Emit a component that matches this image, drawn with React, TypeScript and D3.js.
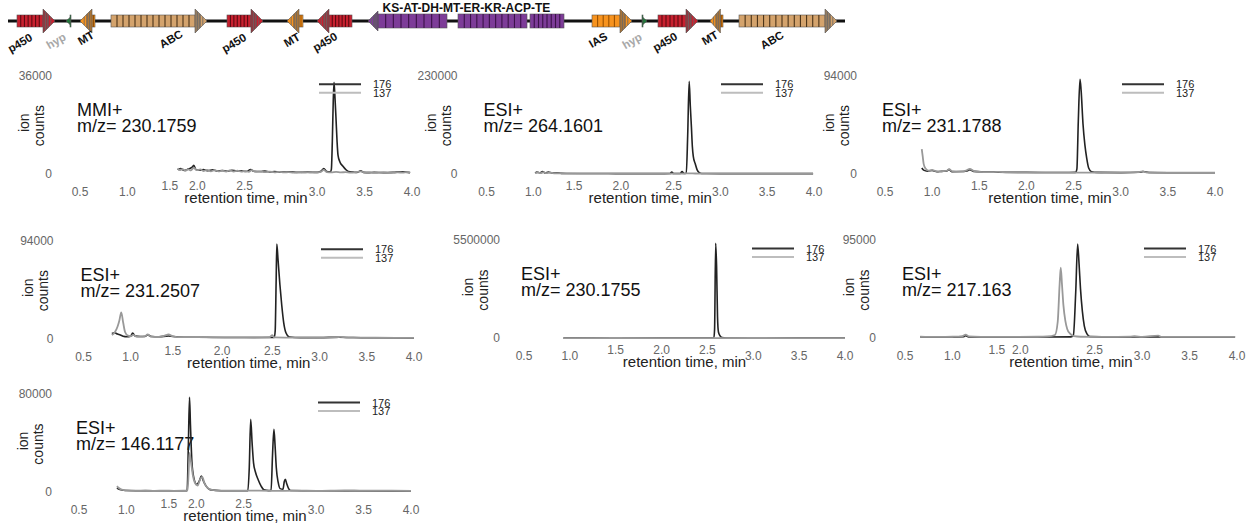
import React from 'react';
import * as d3 from 'd3';

type Pt = [number, number];

// ---------------- chromatogram data ----------------
const seriesNames = ['176', '137'];
const xTicks = [0.5, 1.0, 1.5, 2.0, 2.5, 3.0, 3.5, 4.0];
const raisedTicks = [1.5, 2.0, 2.5];

const ionModes = ['MMI+', 'ESI+', 'ESI+', 'ESI+', 'ESI+', 'ESI+', 'ESI+'];
const mzValues = ['230.1759', '264.1601', '231.1788', '231.2507', '230.1755', '217.163', '146.1177'];
const yMaxValues = [36000, 230000, 94000, 94000, 5500000, 95000, 80000];

const p1_176: Pt[] = [[1.53,1600],[1.56,2100],[1.6,1400],[1.64,1900],[1.68,2500],[1.7,3300],[1.72,1800],[1.76,1500],[1.8,1700],[1.85,1300],[1.9,1600],[1.95,1200],[2.0,1400],[2.05,1100],[2.1,1500],[2.15,1200],[2.2,1300],[2.25,1000],[2.3,1700],[2.33,1100],[2.4,1000],[2.45,1200],[2.5,900],[2.55,1000],[2.6,800],[2.7,900],[2.8,700],[2.9,800],[3.0,700],[3.04,1100],[3.07,2100],[3.1,1000],[3.14,900],[3.15,1800],[3.16,12000],[3.17,27000],[3.178,33600],[3.188,28000],[3.198,21000],[3.21,12000],[3.22,7000],[3.24,4500],[3.27,3000],[3.3,1800],[3.33,1000],[3.38,800],[3.42,700],[3.46,1300],[3.49,700],[3.55,600],[3.6,700],[3.7,600],[3.8,700],[3.9,900],[3.98,600]];
const p1_137: Pt[] = [[1.53,2200],[1.55,1500],[1.58,1900],[1.61,1300],[1.64,1800],[1.67,1400],[1.7,2400],[1.73,1500],[1.77,1800],[1.8,1200],[1.84,1600],[1.88,1100],[1.92,1500],[1.96,1100],[2.0,1300],[2.04,1000],[2.08,1400],[2.12,1000],[2.16,1300],[2.2,1000],[2.24,1200],[2.28,900],[2.31,1500],[2.35,900],[2.4,1000],[2.45,800],[2.5,1000],[2.55,700],[2.6,900],[2.65,700],[2.7,800],[2.75,600],[2.8,800],[2.85,600],[2.9,700],[2.95,600],[3.0,700],[3.04,900],[3.07,1600],[3.1,800],[3.15,700],[3.2,900],[3.25,700],[3.3,800],[3.35,600],[3.4,700],[3.46,1100],[3.5,600],[3.55,700],[3.6,500],[3.65,600],[3.7,700],[3.75,500],[3.8,600],[3.85,700],[3.9,600],[3.95,800],[3.98,500]];

const p2_176: Pt[] = [[1.02,3000],[1.04,5500],[1.07,3500],[1.1,6500],[1.13,3000],[1.16,5000],[1.2,3000],[1.25,3500],[1.3,2200],[1.4,1800],[1.6,1800],[1.8,1700],[2.0,1600],[2.2,1600],[2.4,1600],[2.46,1800],[2.48,5000],[2.5,1800],[2.57,1800],[2.59,6500],[2.61,2000],[2.635,2500],[2.65,90000],[2.666,216700],[2.678,160000],[2.69,110000],[2.7,65000],[2.71,42000],[2.73,25000],[2.75,11000],[2.77,4500],[2.8,1800],[3.0,1600],[3.5,1600],[3.99,1600]];
const p2_137: Pt[] = [[1.02,2500],[1.05,4200],[1.08,2800],[1.11,4800],[1.14,2600],[1.18,4000],[1.22,2400],[1.3,2000],[1.5,1800],[1.7,1800],[2.0,1700],[2.3,1700],[2.6,1700],[2.64,2200],[2.7,2000],[2.8,1700],[3.2,1700],[3.6,1700],[3.99,1700]];

const p3_176: Pt[] = [[0.89,6000],[0.91,4000],[0.95,3000],[1.0,3600],[1.05,2500],[1.1,2800],[1.15,3000],[1.18,4500],[1.21,2500],[1.3,2600],[1.37,3200],[1.4,4500],[1.44,2800],[1.55,2200],[1.7,2000],[2.0,1800],[2.3,1700],[2.52,1800],[2.535,5000],[2.55,50000],[2.568,90600],[2.58,80000],[2.6,48000],[2.62,28000],[2.64,15000],[2.66,6000],[2.69,2500],[2.75,1800],[3.0,1600],[3.2,2000],[3.24,2600],[3.3,1700],[3.6,1500],[4.0,1500]];
const p3_137: Pt[] = [[0.89,24000],[0.9,17000],[0.91,10000],[0.93,5500],[0.96,3500],[1.0,4200],[1.04,3000],[1.1,2800],[1.15,3200],[1.18,4800],[1.21,3000],[1.3,2500],[1.36,3500],[1.4,5200],[1.44,3300],[1.5,2300],[1.6,2000],[1.7,2300],[1.8,1800],[2.0,1800],[2.2,1600],[2.4,1600],[2.6,1600],[2.8,1500],[3.0,1600],[3.18,2000],[3.23,2700],[3.28,1700],[3.5,1500],[3.8,1500],[4.0,1500]];

const p4_176: Pt[] = [[0.8,5500],[0.83,6200],[0.86,5000],[0.89,4200],[0.92,3000],[0.96,2500],[1.0,3000],[1.02,6000],[1.05,3000],[1.1,2600],[1.15,2600],[1.18,4200],[1.22,2600],[1.3,2400],[1.4,3200],[1.5,2200],[1.7,1900],[2.0,1700],[2.3,1700],[2.52,1800],[2.53,8000],[2.54,55000],[2.547,90800],[2.56,76000],[2.58,52000],[2.6,32000],[2.62,16000],[2.645,6000],[2.68,2200],[2.8,1600],[3.0,1600],[3.2,2000],[3.5,1500],[4.0,1400]];
const p4_137: Pt[] = [[0.8,4000],[0.83,6500],[0.86,12000],[0.88,18000],[0.9,25700],[0.92,16000],[0.94,7000],[0.97,3500],[1.0,3000],[1.03,4200],[1.06,2600],[1.1,2500],[1.15,3000],[1.18,4600],[1.21,2800],[1.3,2300],[1.36,3400],[1.4,4600],[1.44,3000],[1.5,2100],[1.7,2200],[1.9,1800],[2.1,1800],[2.3,1700],[2.47,2000],[2.5,4000],[2.52,1800],[2.8,1600],[3.0,1500],[3.18,1900],[3.22,2400],[3.28,1600],[3.6,1500],[4.0,1400]];

const p5_176: Pt[] = [[0.93,20000],[1.3,22000],[1.7,20000],[2.0,21000],[2.3,20000],[2.57,22000],[2.578,500000],[2.59,5315000],[2.6,4000000],[2.61,1200000],[2.62,350000],[2.64,120000],[2.66,40000],[2.7,20000],[3.0,21000],[3.5,20000],[4.0,20000]];
const p5_137: Pt[] = [[0.93,15000],[1.5,16000],[2.0,15000],[2.5,15000],[3.0,16000],[3.5,15000],[4.0,15000]];

const p6_176: Pt[] = [[0.66,1200],[0.8,1300],[1.0,1300],[1.12,1600],[1.14,2500],[1.17,1400],[1.5,1300],[2.0,1300],[2.25,1400],[2.275,3000],[2.3,45000],[2.32,91100],[2.335,72000],[2.35,48000],[2.37,26000],[2.39,12000],[2.42,4000],[2.45,1600],[2.7,1300],[3.0,1400],[3.5,1300],[3.98,1200]];
const p6_137: Pt[] = [[0.66,1500],[0.75,1300],[0.9,1400],[1.0,1500],[1.1,1800],[1.14,3600],[1.17,1900],[1.3,1400],[1.5,1300],[1.7,1400],[1.9,1500],[2.0,1800],[2.08,3200],[2.11,16000],[2.13,52000],[2.142,68200],[2.155,52000],[2.17,32000],[2.19,17000],[2.21,9000],[2.24,4500],[2.28,2000],[2.35,1500],[2.6,1400],[2.88,1700],[2.92,2000],[3.0,1400],[3.17,2600],[3.2,1400],[3.5,1300],[3.98,1300]];

const p7_176: Pt[] = [[0.9,3500],[0.93,2200],[0.97,1700],[1.0,1500],[1.2,1300],[1.5,1300],[1.64,1400],[1.652,35000],[1.665,77300],[1.675,55000],[1.69,25000],[1.71,12000],[1.74,6500],[1.77,9500],[1.79,13300],[1.81,9500],[1.84,5000],[1.88,2200],[2.0,1300],[2.28,1300],[2.295,20000],[2.31,59400],[2.325,40000],[2.34,24000],[2.36,16500],[2.39,10000],[2.42,5000],[2.45,2000],[2.5,1400],[2.525,1500],[2.54,30000],[2.555,51300],[2.567,38000],[2.58,20000],[2.6,8000],[2.62,3000],[2.65,2500],[2.665,9000],[2.675,10600],[2.69,7000],[2.71,3000],[2.73,1500],[3.0,1300],[4.0,1200]];
const p7_137: Pt[] = [[0.9,5100],[0.92,3500],[0.95,2200],[1.0,1500],[1.1,1300],[1.2,1500],[1.3,1200],[1.4,1400],[1.5,1200],[1.6,1300],[1.645,1500],[1.655,15000],[1.665,32000],[1.68,25000],[1.7,14000],[1.72,8000],[1.75,5500],[1.78,11000],[1.8,12500],[1.82,8000],[1.85,4000],[1.9,2000],[2.0,1400],[2.2,1300],[2.4,1300],[2.6,1200],[2.8,1300],[3.0,1200],[3.3,1600],[3.5,1300],[3.8,1300],[4.0,1200]];

const traces176 = [p1_176, p2_176, p3_176, p4_176, p5_176, p6_176, p7_176];
const traces137 = [p1_137, p2_137, p3_137, p4_137, p5_137, p6_137, p7_137];

// ---------------- gene cluster data ----------------
const geneNames = ['p450', 'hyp', 'MT', 'ABC', 'p450', 'MT', 'p450', 'PKS', 'IAS', 'hyp', 'p450', 'MT', 'ABC'];
const geneStart = [17, 66, 80, 111, 227, 287, 317, 368, 592, 642, 658, 710, 739];
const geneEnd = [55, 71, 95, 207, 263, 303, 352, 564, 632, 647, 698, 723, 837];
const geneStrand = [1, -1, -1, 1, 1, -1, -1, -1, 1, 1, 1, -1, 1];
const pksDomains: Pt[] = [[378, 447], [458, 527], [530, 564]];
const pksLabel = 'KS-AT-DH-MT-ER-KR-ACP-TE';

// ---------------- layout / style (kept apart from data) ----------------
const FONT = 'Liberation Sans, Arial, Helvetica, sans-serif';
const panelLayout = [
  { x0: 80, x4: 412, yTop: 75.7, y0: 174.3, yLab: 28 },
  { x0: 486.5, x4: 814, yTop: 75.7, y0: 174.3, yLab: 29 },
  { x0: 885, x4: 1215, yTop: 75.7, y0: 174.3, yLab: 28 },
  { x0: 83.5, x4: 414, yTop: 240.7, y0: 339.3, yLab: 30 },
  { x0: 524, x4: 845, yTop: 240, y0: 338.3, yLab: 24 },
  { x0: 905, x4: 1237, yTop: 240, y0: 338.3, yLab: 29 },
  { x0: 79, x4: 411, yTop: 394, y0: 492.3, yLab: 27 },
];
// horizontal nudges of individual tick labels, as placed in the reference figure
const tickNudge: Record<number, number>[] = [
  { 1.5: -5, 2.0: -25, 2.5: -25 },
  { 1.5: -6, 2.0: -6 },
  {},
  { 1.5: -5, 2.0: -3 },
  {},
  { 1.5: -3, 2.0: -27 },
  { 1.5: -5, 2.0: -25, 2.5: -25 },
];
const geneLabelPos: (Pt | null)[] = [[20, 43], [56, 41], [86, 38], [171, 39], [234, 43], [292, 40], [325, 42], null, [598, 40], [632, 41], [665, 42], [710, 38], [772, 40]];
const familyStyle: Record<string, { fill: string; stripe: string; n: number }> = {
  p450: { fill: '#c8202f', stripe: '#5c0b12', n: 6 },
  hyp: { fill: '#1f7a3a', stripe: '#0d3d1c', n: 0 },
  MT: { fill: '#f7931e', stripe: '#9a5000', n: 1 },
  IAS: { fill: '#f7931e', stripe: '#9a5000', n: 4 },
  ABC: { fill: '#d4a36c', stripe: '#4a3318', n: 13 },
  PKS: { fill: '#7d3c98', stripe: '#3b1248', n: 8 },
};
const DARK = '#222222';
const LIGHT = '#999999';
const LEG_DARK = '#333333';
const LEG_LIGHT = '#bdbdbd';

function Gene({ i, sx, cy }: { i: number; sx: d3.ScaleLinear<number, number>; cy: number }) {
  const name = geneNames[i];
  const st = familyStyle[name];
  const a = sx(geneStart[i]);
  const b = sx(geneEnd[i]);
  const len = b - a;
  const isPks = name === 'PKS';
  const hl = isPks ? 10 : Math.min(12, len * 0.8);
  const hh = name === 'hyp' ? 3.5 : isPks ? 10 : 12;
  const bh = isPks ? 7 : 6;
  const fwd = geneStrand[i] > 0;
  const headBase = fwd ? b - hl : a + hl;
  const tip = fwd ? b : a;
  const els: React.ReactNode[] = [];
  const segs: Pt[] = isPks ? pksDomains.map(([s, e]) => [sx(s), sx(e)] as Pt) : (len - hl > 0.5 ? [fwd ? [a, headBase] : [headBase, b]] as Pt[] : []);
  segs.forEach(([s, e], k) => {
    els.push(<rect key={'b' + k} x={s} y={cy - bh} width={e - s} height={bh * 2} fill={st.fill} stroke="#555" strokeWidth={0.6} />);
    const n = isPks ? [8, 10, 7][k] : st.n;
    for (let j = 1; j <= n; j++) {
      const xx = s + ((e - s) * j) / (n + 1);
      els.push(<line key={'s' + k + '-' + j} x1={xx} x2={xx} y1={cy - bh} y2={cy + bh} stroke={st.stripe} strokeWidth={1.1} />);
    }
  });
  els.push(<polygon key="h" points={`${headBase},${cy - hh} ${tip},${cy} ${headBase},${cy + hh}`} fill={st.fill} stroke="#555" strokeWidth={0.6} />);
  if (name !== 'hyp') {
    const d = hl * 0.5;
    const dir = fwd ? 1 : -1;
    const xm = headBase + dir * d;
    const hm = hh * (1 - d / hl);
    els.push(<polygon key="hg" points={`${headBase},${cy - hh} ${xm},${cy - hm} ${xm},${cy + hm} ${headBase},${cy + hh}`} fill="#555" opacity={0.45} />);
    [0.2, 0.4, 0.65].forEach((f, k) => {
      const xx = headBase + dir * hl * f;
      const h2 = hh * (1 - f);
      els.push(<line key={'hs' + k} x1={xx} x2={xx} y1={cy - h2} y2={cy + h2} stroke="#666" strokeWidth={0.8} />);
    });
  }
  return <g>{els}</g>;
}

function GeneCluster() {
  const sx = d3.scaleLinear().domain([8, 845]).range([8, 845]);
  const cy = 21;
  return (
    <g>
      <line x1={sx(8)} x2={sx(845)} y1={cy} y2={cy} stroke="#111" strokeWidth={3} />
      {geneNames.map((_, i) => <Gene key={i} i={i} sx={sx} cy={cy} />)}
      {geneNames.map((n, i) => {
        const p = geneLabelPos[i];
        if (!p) return null;
        return (
          <text key={'l' + i} transform={`translate(${p[0]},${p[1]}) rotate(-30)`} textAnchor="middle" dominantBaseline="central"
            fontFamily={FONT} fontWeight="bold" fontSize={11.5} fill={n === 'hyp' ? '#a8a8a8' : '#111'}>{n}</text>
        );
      })}
      <text x={382.5} y={12} fontFamily={FONT} fontWeight="bold" fontSize={12} fill="#111">{pksLabel}</text>
    </g>
  );
}

function Panel({ i }: { i: number }) {
  const L = panelLayout[i];
  const x = d3.scaleLinear().domain([0.5, 4.0]).range([L.x0, L.x4]);
  const y = d3.scaleLinear().domain([0, yMaxValues[i]]).range([L.y0, L.yTop]);
  const line = d3.line<Pt>().x((d) => x(d[0])).y((d) => y(d[1])).curve(d3.curveMonotoneX);
  const lx1 = L.x4 - 93;
  const lx2 = L.x4 - 51;
  const ly = [L.yTop + 8.5, L.yTop + 17];
  const nudge = tickNudge[i];
  return (
    <g fontFamily={FONT}>
      {[yMaxValues[i], 0].map((v) => (
        <text key={v} x={L.x0 - L.yLab} y={y(v)} textAnchor="end" dominantBaseline="central" fontSize={12} fill="#666">{String(v)}</text>
      ))}
      {xTicks.map((t) => (
        <text key={t} x={x(t) + (nudge[t] || 0)} y={L.y0 + 22 - (raisedTicks.includes(t) ? 6 : 0)} textAnchor="middle" fontSize={12} fill="#666">{t.toFixed(1)}</text>
      ))}
      <text x={(L.x0 + L.x4) / 2} y={L.y0 + 29} textAnchor="middle" fontSize={15} fill="#222">retention time, min</text>
      <text x={L.x0 - 3} y={L.yTop + 40} fontSize={18} fill="#111">{ionModes[i]}</text>
      <text x={L.x0 - 3} y={L.yTop + 56} fontSize={18} fill="#111">{'m/z= ' + mzValues[i]}</text>
      <text transform={`translate(${L.x0 - 51},${L.yTop + 47}) rotate(-90)`} textAnchor="middle" fontSize={14} fill="#222">ion</text>
      <text transform={`translate(${L.x0 - 36},${L.yTop + 50}) rotate(-90)`} textAnchor="middle" fontSize={14} fill="#222">counts</text>
      <path d={line(traces176[i]) || ''} fill="none" stroke={DARK} strokeWidth={1.6} strokeLinejoin="round" />
      <path d={line(traces137[i]) || ''} fill="none" stroke={LIGHT} strokeWidth={1.8} strokeLinejoin="round" />
      {seriesNames.map((s, k) => (
        <g key={s}>
          <line x1={lx1} x2={lx2} y1={ly[k]} y2={ly[k]} stroke={k === 0 ? LEG_DARK : LEG_LIGHT} strokeWidth={2} />
          <text x={L.x4 - 39} y={ly[k]} dominantBaseline="central" fontSize={11} fill="#222">{s}</text>
        </g>
      ))}
    </g>
  );
}

export default function App() {
  return (
    <svg width={1252} height={531} style={{ position: 'absolute', left: 0, top: 0, background: '#fff' }}>
      <rect x={0} y={0} width={1252} height={531} fill="#fff" />
      <GeneCluster />
      {panelLayout.map((_, i) => <Panel key={i} i={i} />)}
    </svg>
  );
}
